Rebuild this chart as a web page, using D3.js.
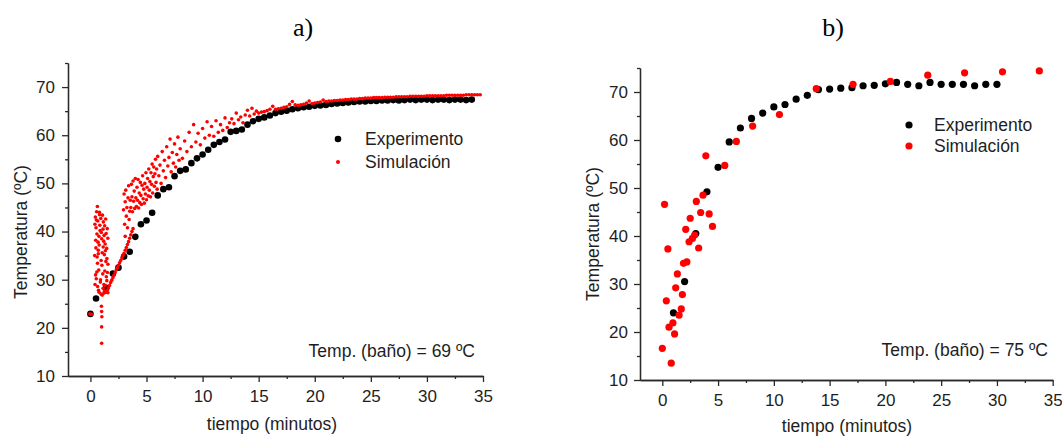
<!DOCTYPE html>
<html><head><meta charset="utf-8">
<script src="https://cdn.jsdelivr.net/npm/d3@7"></script>
<style>
body{margin:0;background:#fff}
svg{display:block}
text{font-family:"Liberation Sans",Arial,sans-serif;fill:#1e1e1e}
</style>
</head><body>
<svg id="c" width="1062" height="437"></svg>
<script>
// ---------- data ----------
const xTickValues = [0,5,10,15,20,25,30,35];
const xMinorTicks = [2.5,7.5,12.5,17.5,22.5,27.5,32.5];
const yTickValues = [10,20,30,40,50,60,70];
const yMinorTicks = [15,25,35,45,55,65,75];
const panelTitles = ["a)","b)"];
const seriesNames = ["Experimento","Simulación"];
const bathLabels = ["Temp. (baño) = 69 ºC","Temp. (baño) = 75 ºC"];
const xTitle = "tiempo (minutos)";
const yTitle = "Temperatura (ºC)";

// panel a – experiment [t (min), T (ºC)]
const expA = [[0,22.9],[0.5,26.1],[1.4,28.3],[2,31.3],[2.5,32.5],[3,34.8],[3.5,35.8],[4,38.9],[4.5,41.5],[5,42.3],
[5.5,43.9],[6,47.5],[6.5,48.8],[7,49.2],[7.5,51.5],[8,52.6],[8.5,52.9],[9,54.2],[9.5,55.2],[10,56.0],
[10.5,57.0],[11,58.0],[11.5,58.6],[12,59.1],[12.5,60.7],[13,60.9],[13.5,61.2],[14,62.2],[14.5,62.9],[15,63.4],
[15.5,63.7],[16,64.1],[16.5,64.6],[17,64.9],[17.5,65.1],[18,65.4],[18.5,65.6],[19,65.8],[19.5,65.9],[20,66.1],
[20.5,66.2],[21,66.3],[21.5,66.5],[22,66.6],[22.5,66.7],[23,66.8],[23.5,66.9],[24,67.0],[24.5,67.0],[25,67.1],
[25.5,67.1],[26,67.2],[26.5,67.2],[27,67.3],[27.5,67.2],[28,67.3],[28.5,67.4],[29,67.3],[29.5,67.4],[30,67.4],
[30.5,67.3],[31,67.4],[31.5,67.4],[32,67.3],[32.5,67.4],[33,67.4],[33.5,67.3],[34,67.4]];

// panel a – simulation (early scattered cloud)
const simAcloud = [[-0.05,22.9],[0.1,22.8],
[0.40,41.5],[0.47,38.2],[0.38,35.0],[0.52,30.2],[0.44,43.0],[0.58,39.5],[0.49,36.6],[0.41,29.0],[0.63,33.4],[0.55,44.1],
[0.50,40.8],[0.68,37.8],[0.57,31.6],[0.62,45.2],[0.72,27.8],[0.66,42.2],[0.60,34.7],[0.76,39.0],[0.70,36.1],[0.64,28.6],
[0.81,43.5],[0.74,32.0],[0.86,40.2],[0.78,37.2],[0.90,30.0],[0.80,44.0],[0.95,34.0],[0.84,41.3],[0.77,27.4],[1.00,38.5],
[0.88,29.5],[1.05,35.6],[0.92,42.7],[1.10,31.2],[0.97,39.8],[0.96,27.0],[1.14,36.8],[1.02,33.0],[1.07,43.4],[1.20,29.0],
[1.12,40.5],[1.05,26.8],[1.24,35.2],[1.18,38.0],[1.28,31.8],[1.15,42.0],[1.13,28.2],[1.33,36.0],[1.22,39.2],[1.38,33.8],
[1.20,27.2],[1.27,41.2],[1.42,30.6],[1.31,37.4],[1.47,34.4],[1.36,42.6],[1.32,28.8],[1.40,39.6],[1.52,31.5],[1.45,36.5],
[1.25,27.6],[1.50,40.6],[1.56,33.2],[1.46,29.8],[1.55,38.6],[0.70,35.4],[0.53,42.4],[0.46,31.0],[1.56,27.3],
[0.98,24.5],[1.0,23.4],[1.02,22.3],[1.0,20.2],[1.0,16.8]];

// panel a – simulation (rising line)
const simAline = [[1.4,27.4],[1.5,27.8],[1.6,28.3],[1.7,28.8],[1.8,29.4],[1.9,29.9],[2.0,30.4],[2.1,30.9],[2.2,31.5],
[2.3,32.0],[2.4,32.5],[2.5,33.0],[2.6,33.5],[2.7,34.0],[2.8,34.5],[2.9,35.0],[3.0,35.5],[3.1,36.1],[3.2,36.7],
[3.3,37.3],[3.4,37.9],[3.5,38.6],[3.6,39.3],[3.7,40.0],[3.8,40.6]];

// panel a – simulation (upper band)
const simAband = [[2.95,44.5],[3.0,47.8],[3.05,41.5],[3.1,46.2],[3.1,39.0],[3.15,48.6],[3.2,43.2],[3.25,45.0],[3.3,40.8],
[3.35,47.0],[3.4,49.5],[3.45,42.5],[3.5,44.2],[3.55,46.5],
[3.6,45.0],[3.65,49.8],[3.7,47.2],[3.75,44.1],[3.8,50.5],[3.85,46.3],[3.9,48.4],[3.95,44.8],[4.0,51.0],[4.05,47.0],
[4.1,45.2],[4.15,49.2],[4.2,46.5],[4.25,50.8],[4.3,44.9],[4.35,48.0],[4.4,46.0],[4.45,50.2],[4.5,47.5],[4.55,45.6],
[4.6,49.6],[4.65,51.6],[4.7,46.8],[4.75,48.8],[4.8,45.9],[4.85,50.0],[4.9,47.8],[4.95,52.2],[5.0,46.6],[5.05,49.2],
[5.1,51.0],[5.15,47.4],[5.2,53.0],[5.25,48.6],[5.3,50.4],[5.35,47.2],[5.4,52.2],[5.45,49.8],[5.5,54.0],[5.55,48.0],
[5.6,51.4],[5.65,53.4],[5.7,49.4],[5.75,52.0],[5.8,55.0],[5.85,50.2],[5.9,53.0],[5.95,48.8],[6.0,55.6],[6.1,51.6],
[6.2,53.8],[6.3,50.0],[6.4,56.6],[6.5,52.6],[6.6,54.8],[6.7,51.2],[6.8,57.6],[6.9,53.6],[7.0,55.4],[7.1,59.2],
[7.2,52.4],[7.3,56.4],[7.4,54.2],[7.5,58.2],[7.6,53.4],[7.7,56.0],[7.8,59.6],[7.9,54.8],[8.0,57.2],
[8.2,55.2],[8.4,58.8],[8.6,56.6],[8.8,60.6],[9.0,57.6],[9.2,62.2],[9.4,58.6],[9.6,60.4],[9.8,58.0],[10.0,61.4],
[10.2,59.4],[10.4,62.8],[10.6,60.0],[10.8,61.8],[11.0,59.8],[11.2,63.0],[11.4,60.6],[11.6,62.2],[11.8,61.0],[12.0,63.6],
[12.2,61.6],[12.4,62.6],[12.6,63.4],[12.8,62.4],[13.0,64.6],[13.2,63.2],[13.4,63.8],[13.6,62.6],[13.8,64.2],[14.0,65.2],
[14.2,64.0],[14.4,65.6],[14.6,64.4],[14.8,65.0]];

// panel a – simulation (late, nearly continuous)
const simAtail = [[15.0,64.6],[15.25,64.8],[15.5,64.9],[15.75,65.1],[16.0,65.4],[16.25,66.0],[16.5,65.4],[16.75,65.5],
[17.0,65.6],[17.25,65.8],[17.5,65.9],[17.75,66.4],[18.0,67.0],[18.25,66.3],[18.5,66.2],[18.75,66.3],[19.0,66.4],
[19.25,66.7],[19.5,67.1],[19.75,66.6],[20.0,66.7],[20.25,66.8],[20.5,66.9],[20.75,67.3],[21.0,67.0],[21.25,67.1],
[21.5,67.1],[21.75,67.2],[22.0,67.2],[22.25,67.3],[22.5,67.3],[22.75,67.4],[23.0,67.4],[23.25,67.5],[23.5,67.5],
[23.75,67.5],[24.0,67.6],[24.25,67.6],[24.5,67.7],[24.75,67.7],[25.0,67.7],[25.25,67.8],[25.5,67.8],[25.75,67.8],
[26.0,67.8],[26.25,67.9],[26.5,67.9],[26.75,67.9],[27.0,67.9],[27.25,68.0],[27.5,68.0],[27.75,68.0],[28.0,68.0],
[28.25,68.0],[28.5,68.1],[28.75,68.1],[29.0,68.1],[29.25,68.1],[29.5,68.1],[29.75,68.1],[30.0,68.2],[30.25,68.2],
[30.5,68.2],[30.75,68.2],[31.0,68.2],[31.25,68.2],[31.5,68.2],[31.75,68.3],[32.0,68.3],[32.25,68.3],[32.5,68.3],
[32.75,68.3],[33.0,68.3],[33.25,68.3],[33.5,68.4],[33.75,68.4],[34.0,68.4],[34.25,68.4],[34.5,68.4],[34.75,68.4]];

// panel b – experiment
const expB = [[1,24.0],[2,30.5],[3,40.5],[4,49.2],[5,54.3],[6,59.6],[7,62.5],[8,64.5],[9,65.6],[10,66.9],
[11,67.4],[12,68.5],[13,69.3],[14,70.5],[15,70.6],[16,70.8],[17,70.9],[18,71.3],[19,71.4],[20,71.7],
[21,72.0],[22,71.6],[23,71.3],[24,72.0],[25,71.6],[26,71.6],[27,71.6],[28,71.3],[29,71.6],[30,71.6]];

// panel b – simulation
const simB = [[0,16.6],[0.2,46.6],[0.36,26.5],[0.5,37.3],[0.6,21.0],[0.8,13.5],[0.95,21.9],[1.1,19.6],[1.2,29.2],
[1.35,32.1],[1.5,23.5],[1.7,24.8],[1.8,27.8],[1.9,34.3],[2.1,41.4],[2.2,34.6],[2.4,38.8],[2.5,43.7],[2.7,39.5],
[2.9,40.2],[3.05,47.2],[3.26,37.5],[3.44,44.9],[3.65,48.5],[3.9,56.7],[4.2,44.6],[4.5,42.0],[5.6,54.7],[6.64,59.7],
[8.1,62.9],[10.5,65.3],[13.8,70.7],[17.1,71.6],[20.45,72.2],[23.8,73.5],[27.1,74.0],[30.5,74.2],[33.8,74.4]];

// ---------- drawing ----------
const svg = d3.select("#c");
const panels = [
  {title:panelTitles[0], titleX:303, xr:[68,483], yr:[376,63], ytx:21, yty:232, xtx:272, xty:430,
   exp:[expA], sim:[simAcloud,simAline,simAband,simAtail], rExp:3.3, rSim:1.8,
   leg:{dx:338, tx:365, y1:139, y2:162, rE:3.3, rS:2}, bath:{x:475, y:357, t:bathLabels[0]}, ylabEnd:7},
  {title:panelTitles[1], titleX:833, xr:[640,1052.7], yr:[380,68], ytx:593, yty:234, xtx:847, xty:432,
   exp:[expB], sim:[simB], rExp:3.6, rSim:3.6,
   leg:{dx:909, tx:934, y1:125, y2:146, rE:3.6, rS:3.6}, bath:{x:1048, y:356, t:bathLabels[1]}, ylabEnd:6}
];

panels.forEach(p => {
  const x = d3.scaleLinear().domain([-2,35]).range(p.xr);
  const y = d3.scaleLinear().domain([10,75]).range(p.yr);
  const g = svg.append("g");

  g.append("text").attr("x",p.titleX).attr("y",36).attr("text-anchor","middle")
    .style("font-family","'Liberation Serif','Times New Roman',serif").style("font-size","26px")
    .style("fill","#000").text(p.title);

  const styleAxis = sel => {
    sel.selectAll("path,line").attr("stroke","#2a2a2a").attr("stroke-width",1.3);
    sel.selectAll("text").style("font-size","17px").style("fill","#1e1e1e")
      .style("font-family","'Liberation Sans',Arial,sans-serif");
  };
  // x axis
  g.append("g").attr("transform",`translate(0,${p.yr[0]})`)
    .call(d3.axisBottom(x).tickValues(xMinorTicks).tickSize(3).tickSizeOuter(0).tickFormat(""))
    .call(styleAxis);
  g.append("g").attr("transform",`translate(0,${p.yr[0]})`)
    .call(d3.axisBottom(x).tickValues(xTickValues).tickSize(6).tickSizeOuter(0).tickPadding(8).tickFormat(d3.format("d")))
    .call(styleAxis);
  // y axis
  g.append("g").attr("transform",`translate(${p.xr[0]},0)`)
    .call(d3.axisLeft(y).tickValues(yMinorTicks).tickSize(3).tickSizeOuter(0).tickFormat(""))
    .call(styleAxis);
  g.append("g").attr("transform",`translate(${p.xr[0]},0)`)
    .call(d3.axisLeft(y).tickValues(yTickValues).tickSize(6).tickSizeOuter(0).tickPadding(p.ylabEnd).tickFormat(d3.format("d")))
    .call(styleAxis);

  // axis titles
  g.append("text").attr("transform",`translate(${p.ytx},${p.yty}) rotate(-90)`)
    .attr("text-anchor","middle").attr("dy","0.35em").style("font-size","17.5px").text(yTitle);
  g.append("text").attr("x",p.xtx).attr("y",p.xty).attr("text-anchor","middle")
    .style("font-size","17.5px").text(xTitle);

  // data
  p.exp.forEach(arr => g.append("g").selectAll("circle").data(arr).join("circle")
    .attr("cx",d=>x(d[0])).attr("cy",d=>y(d[1])).attr("r",p.rExp).attr("fill","#000"));
  p.sim.forEach(arr => g.append("g").selectAll("circle").data(arr).join("circle")
    .attr("cx",d=>x(d[0])).attr("cy",d=>y(d[1])).attr("r",p.rSim).attr("fill","#f00"));

  // legend
  g.append("circle").attr("cx",p.leg.dx).attr("cy",p.leg.y1).attr("r",p.leg.rE).attr("fill","#000");
  g.append("circle").attr("cx",p.leg.dx).attr("cy",p.leg.y2).attr("r",p.leg.rS).attr("fill","#f00");
  g.append("text").attr("x",p.leg.tx).attr("y",p.leg.y1).attr("dy","0.36em").style("font-size","17.5px").text(seriesNames[0]);
  g.append("text").attr("x",p.leg.tx).attr("y",p.leg.y2).attr("dy","0.36em").style("font-size","17.5px").text(seriesNames[1]);

  g.append("text").attr("x",p.bath.x).attr("y",p.bath.y).attr("text-anchor","end")
    .style("font-size","17.5px").text(p.bath.t);
});
</script>
</body></html>
